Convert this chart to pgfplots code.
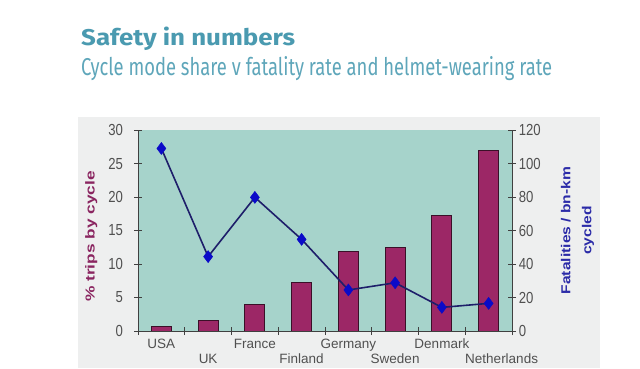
\documentclass[border=0pt]{standalone}
\usepackage{pgfplots}
\pgfplotsset{compat=1.18}
\usepackage{fontspec}
\setmainfont{Liberation Sans}
\newfontfamily\titlefont{Fira Sans}
\definecolor{titleteal}{HTML}{4A9AB0}
\definecolor{subteal}{HTML}{5EA6BA}
\definecolor{panelgray}{HTML}{EEEFEF}
\definecolor{plotbg}{HTML}{A6D3CB}
\definecolor{barcol}{HTML}{9C2766}
\definecolor{bardark}{HTML}{3A1028}
\definecolor{linecol}{HTML}{1E1E6A}
\definecolor{markcol}{HTML}{0A0AC8}
\definecolor{ylabcol}{HTML}{8A2560}
\definecolor{y2labcol}{HTML}{2B2BA8}
\definecolor{labgray}{HTML}{505050}
\begin{document}
\begin{tikzpicture}[x=1pt,y=1pt]
\path[use as bounding box, fill=white] (0pt,0pt) rectangle (640pt,-368pt);
\fill[panelgray] (78pt,-117pt) rectangle (600pt,-368pt);
\node[anchor=base west, inner sep=0, text=titleteal] at (81pt,-45pt)
  {\resizebox{214pt}{18.5pt}{\titlefont\bfseries Safety in numbers}};
\node[anchor=base west, inner sep=0, text=subteal] at (81pt,-75pt)
  {\resizebox{471pt}{19pt}{\titlefont Cycle mode share v fatality rate and helmet-wearing rate}};
\begin{axis}[
  at={(138pt,-331pt)}, anchor=south west, scale only axis,
  width=374pt, height=201pt,
  xmin=-0.5, xmax=7.5, ymin=0, ymax=30,
  axis background/.style={fill=plotbg},
  axis x line*=bottom, axis y line*=left,
  axis line style={black!75, line width=0.8pt, -},
  ytick={0,5,...,30},
  xtick={0,...,7},
  xticklabels={{\strut USA},{\strut\\UK},{\strut France},{\strut\\Finland},{\strut Germany},{\strut\\Sweden},{\strut Denmark},{\strut\\\hspace*{26pt}Netherlands}},
  xticklabel style={font=\fontsize{13.5}{15}\selectfont, text=labgray, align=center, inner sep=1pt, yshift=-2pt},
  x tick style={draw=none},
  y tick style={black!75, line width=0.8pt},
  tick align=center,
  major tick length=8pt,
  yticklabel style={font=\fontsize{16}{17}\selectfont, text=labgray, xscale=0.82, xshift=-10pt},
  /pgf/number format/assume math mode=true,
  ylabel={\scalebox{1.33}[1]{\% trips by cycle}},
  ylabel style={at={(axis description cs:-0.125,0.47)}, anchor=center, font=\bfseries\fontsize{13}{15}\selectfont, text=ylabcol},
  clip=false,
]
\addplot[ybar, bar width=20pt, fill=barcol, draw=bardark, line width=0.8pt]
  coordinates {(0,0.7) (1,1.6) (2,3.9) (3,7.2) (4,11.9) (5,12.5) (6,17.2) (7,26.9)};
\end{axis}
\begin{axis}[
  at={(138pt,-331pt)}, anchor=south west, scale only axis,
  width=374pt, height=201pt,
  xmin=-0.5, xmax=7.5, ymin=0, ymax=120,
  axis x line*=bottom, axis y line*=right,
  axis line style={black!75, line width=0.8pt, -},
  xmajorticks=true,
  xtick={-0.5,0.5,1.5,2.5,3.5,4.5,5.5,6.5,7.5}, xticklabels={},
  ytick={0,20,...,120},
  x tick style={black!75, line width=0.8pt},
  y tick style={black!75, line width=0.8pt},
  tick align=center, major tick length=8pt,
  yticklabel style={font=\fontsize{16}{17}\selectfont, text=labgray, xscale=0.82},
  /pgf/number format/assume math mode=true,
  ylabel={\scalebox{1.2}[1]{\begin{tabular}{@{}c@{}}Fatalities / bn-km\\[6pt]cycled\end{tabular}}},
  ylabel style={at={(axis description cs:1.176,0.5)}, anchor=center, font=\bfseries\fontsize{13}{15}\selectfont, text=y2labcol},
  clip=false,
]
\addplot[linecol, line width=1.6pt, mark=diamond*, mark size=6pt, mark options={fill=markcol, draw=markcol, line width=0.5pt}]
  coordinates {(0,109) (1,44.4) (2,79.8) (3,54.7) (4,24.5) (5,28.8) (6,14.1) (7,16.5)};
\end{axis}
\end{tikzpicture}
\end{document}
